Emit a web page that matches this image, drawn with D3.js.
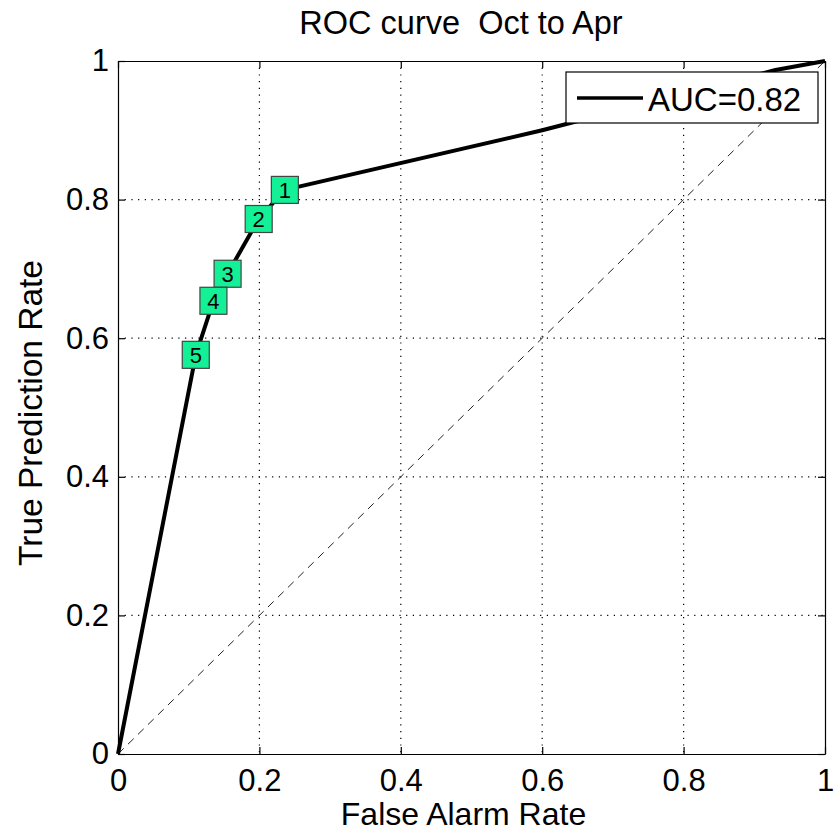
<!DOCTYPE html>
<html lang="en">
<head>
  <meta charset="UTF-8" />
  <title>ROC curve Oct to Apr</title>
  <style>
    body {
      margin: 0;
      background: #fff;
    }
    svg {
      display: block;
      background: #fff;
      font-family: "Liberation Sans", Arial, sans-serif;
    }
    .axis path, .axis line {
      stroke: #000;
      stroke-width: 1.2;
    }
    .axis text {
      font-size: 31px;
      fill: #000;
    }
  </style>
</head>
<body>
  <svg id="roc" width="836" height="833" viewBox="0 0 836 833" xmlns="http://www.w3.org/2000/svg"></svg>

  <script src="https://d3js.org/d3.v7.min.js"></script>
  <script>
    // ROC curve vertices (false alarm rate, true prediction rate)
    const curveFpr = [0, 0.110, 0.135, 0.155, 0.199, 0.236, 0.600, 0.930, 1];
    const curveTpr = [0, 0.576, 0.654, 0.693, 0.772, 0.814, 0.900, 0.987, 1];

    // labelled threshold markers
    const markerLabels = ["1", "2", "3", "4", "5"];
    const markerFpr = [0.236, 0.199, 0.155, 0.135, 0.110];
    const markerTpr = [0.814, 0.772, 0.693, 0.654, 0.576];

    const tickValues = [0, 0.2, 0.4, 0.6, 0.8, 1];
    const tickLabels = ["0", "0.2", "0.4", "0.6", "0.8", "1"];
    const legendLabel = "AUC=0.82";

    const plotL = 118, plotR = 825, plotT = 61, plotB = 754;
    const svg = d3.select("#roc");

    const x = d3.scaleLinear().domain([0, 1]).range([plotL, plotR]);
    const y = d3.scaleLinear().domain([0, 1]).range([plotB, plotT]);
    const fmt = d => tickLabels[tickValues.indexOf(d)];

    // dotted grid
    const grid = svg.append("g")
      .attr("stroke", "#000")
      .attr("stroke-width", 1.2)
      .attr("stroke-dasharray", "1.2,5.5");
    grid.selectAll(".gx")
      .data(tickValues.slice(1, -1))
      .enter().append("line")
      .attr("x1", d => x(d)).attr("x2", d => x(d))
      .attr("y1", plotT).attr("y2", plotB);
    grid.selectAll(".gy")
      .data(tickValues.slice(1, -1))
      .enter().append("line")
      .attr("y1", d => y(d)).attr("y2", d => y(d))
      .attr("x1", plotL).attr("x2", plotR);

    // chance diagonal
    svg.append("line")
      .attr("x1", x(0)).attr("y1", y(0))
      .attr("x2", x(1)).attr("y2", y(1))
      .attr("stroke", "#222")
      .attr("stroke-width", 1)
      .attr("stroke-dasharray", "8,6");

    // axes (MATLAB style box with inward ticks)
    svg.append("g").attr("class", "axis")
      .attr("transform", `translate(0,${plotB})`)
      .call(d3.axisBottom(x).tickValues(tickValues).tickFormat(fmt).tickSizeInner(-7).tickSizeOuter(0).tickPadding(15));
    svg.append("g").attr("class", "axis")
      .attr("transform", `translate(${plotL},0)`)
      .call(d3.axisLeft(y).tickValues(tickValues).tickFormat(fmt).tickSizeInner(-7).tickSizeOuter(0).tickPadding(9));
    svg.append("g").attr("class", "axis")
      .attr("transform", `translate(0,${plotT})`)
      .call(d3.axisTop(x).tickValues(tickValues).tickFormat("").tickSizeInner(-7).tickSizeOuter(0));
    svg.append("g").attr("class", "axis")
      .attr("transform", `translate(${plotR},0)`)
      .call(d3.axisRight(y).tickValues(tickValues).tickFormat("").tickSizeInner(-7).tickSizeOuter(0));

    svg.selectAll(".axis .domain").attr("stroke-width", 1.3);

    // ROC curve
    const line = d3.line()
      .x((d, i) => x(curveFpr[i]))
      .y((d, i) => y(curveTpr[i]));
    svg.append("path")
      .datum(curveFpr)
      .attr("d", line)
      .attr("fill", "none")
      .attr("stroke", "#000")
      .attr("stroke-width", 4)
      .attr("stroke-linejoin", "round");

    // numbered markers
    const box = 27;
    const marks = svg.append("g").selectAll("g")
      .data(markerLabels)
      .enter().append("g")
      .attr("transform", (d, i) => `translate(${x(markerFpr[i])},${y(markerTpr[i])})`);
    marks.append("rect")
      .attr("x", -box / 2).attr("y", -box / 2)
      .attr("width", box).attr("height", box)
      .attr("fill", "#14f096")
      .attr("stroke", "#444")
      .attr("stroke-width", 1.2);
    marks.append("text")
      .attr("text-anchor", "middle")
      .attr("dy", "0.36em")
      .attr("font-size", 22)
      .text(d => d);

    // legend
    const lg = svg.append("g");
    lg.append("rect")
      .attr("x", 566).attr("y", 72)
      .attr("width", 252).attr("height", 51)
      .attr("fill", "#fff")
      .attr("stroke", "#000")
      .attr("stroke-width", 1.2);
    lg.append("line")
      .attr("x1", 577).attr("x2", 643)
      .attr("y1", 98).attr("y2", 98)
      .attr("stroke", "#000")
      .attr("stroke-width", 3.5);
    lg.append("text")
      .attr("x", 648).attr("y", 111)
      .attr("font-size", 33)
      .text(legendLabel);

    // titles
    svg.append("text")
      .attr("x", 461).attr("y", 34)
      .attr("text-anchor", "middle")
      .attr("font-size", 32.5)
      .style("white-space", "pre")
      .text("ROC curve  Oct to Apr");
    svg.append("text")
      .attr("x", 463.5).attr("y", 825)
      .attr("text-anchor", "middle")
      .attr("font-size", 32)
      .text("False Alarm Rate");
    svg.append("text")
      .attr("transform", "translate(42,413) rotate(-90)")
      .attr("text-anchor", "middle")
      .attr("font-size", 33.5)
      .text("True Prediction Rate");
  </script>
</body>
</html>
